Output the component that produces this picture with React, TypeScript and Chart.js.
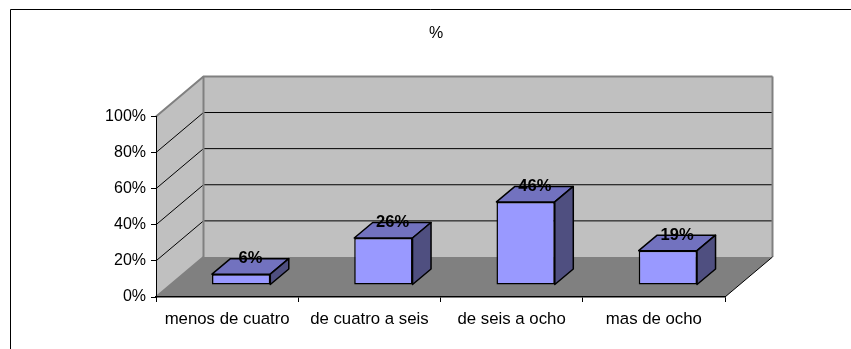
import React, { useEffect, useRef } from "react";
import { Chart, registerables } from "chart.js";

Chart.register(...registerables);

const categories = ["menos de cuatro", "de cuatro a seis", "de seis a ocho", "mas de ocho"];
const percentages = [6, 26, 46, 19];
const yTicks = [0, 20, 40, 60, 80, 100];
const chartTitle = "%";

const FONT = "'Liberation Sans', Arial, sans-serif";
const WALL_DX = 47.5;
const WALL_DY = -40;
const BAR_SHIFT_X = 14;
const BAR_SHIFT_Y = -12;
const BAR_DX = 18.5;
const BAR_DY = -15.5;

// Outer frame, side wall, back wall and floor of the pseudo-3D box.
const roomPlugin = {
  id: "room",
  afterLayout(chart: any) {
    // Tick labels are clipped to the scale box, so widen it to hold them.
    chart.scales.y.left = 20;
  },
  beforeDraw(chart: any) {
    const { ctx, chartArea: a, scales } = chart;
    const y = scales.y;
    ctx.save();
    ctx.fillStyle = "#ffffff";
    ctx.fillRect(0, 0, chart.width, chart.height);

    ctx.strokeStyle = "#000000";
    ctx.lineWidth = 1;
    ctx.beginPath();
    ctx.moveTo(10.5, chart.height);
    ctx.lineTo(10.5, 9.5);
    ctx.lineTo(chart.width, 9.5);
    ctx.stroke();

    const poly = (pts: number[][], fill: string) => {
      ctx.beginPath();
      pts.forEach(([px, py], i) => (i ? ctx.lineTo(px, py) : ctx.moveTo(px, py)));
      ctx.closePath();
      ctx.fillStyle = fill;
      ctx.fill();
    };
    const l = a.left, r = a.right, t = a.top, b = a.bottom;
    const bl = l + WALL_DX, br = r + WALL_DX, bt = t + WALL_DY, bb = b + WALL_DY;

    poly([[bl, bt], [br, bt], [br, bb], [bl, bb]], "#c0c0c0");
    poly([[l, t], [bl, bt], [bl, bb], [l, b]], "#c0c0c0");
    poly([[l, b], [bl, bb], [br, bb], [r, b]], "#808080");

    // Grid lines run along the side wall and across the back wall.
    yTicks.forEach((v) => {
      const py = y.getPixelForValue(v);
      const edge = v === 0 || v === 100;
      ctx.strokeStyle = edge ? "#808080" : "#000000";
      ctx.lineWidth = edge ? 2 : 1;
      ctx.beginPath();
      ctx.moveTo(l, py);
      ctx.lineTo(bl, py + WALL_DY);
      if (v !== 0) ctx.lineTo(br, py + WALL_DY);
      ctx.stroke();
    });

    ctx.strokeStyle = "#808080";
    ctx.lineWidth = 2;
    ctx.beginPath();
    ctx.moveTo(bl, bt);
    ctx.lineTo(bl, bb);
    ctx.moveTo(br, bt);
    ctx.lineTo(br, bb);
    ctx.stroke();

    ctx.strokeStyle = "#000000";
    ctx.lineWidth = 1;
    ctx.beginPath();
    ctx.moveTo(r, b);
    ctx.lineTo(br, bb);
    ctx.stroke();
    ctx.restore();
  },
};

// Extrudes each bar: the top and side faces go behind the library's front face.
const extrudePlugin = {
  id: "extrude",
  beforeDatasetDraw(chart: any, args: any) {
    const { ctx } = chart;
    ctx.save();
    ctx.translate(BAR_SHIFT_X, BAR_SHIFT_Y);
    ctx.strokeStyle = "#000000";
    ctx.lineWidth = 1.5;
    ctx.lineJoin = "round";
    args.meta.data.forEach((bar: any) => {
      const { x, y, base, width } = bar.getProps(["x", "y", "base", "width"]);
      const left = x - width / 2;
      const right = x + width / 2;
      ctx.fillStyle = "#7272bf";
      ctx.beginPath();
      ctx.moveTo(left, y);
      ctx.lineTo(left + BAR_DX, y + BAR_DY);
      ctx.lineTo(right + BAR_DX, y + BAR_DY);
      ctx.lineTo(right, y);
      ctx.closePath();
      ctx.fill();
      ctx.stroke();
      ctx.fillStyle = "#4f4f80";
      ctx.beginPath();
      ctx.moveTo(right, y);
      ctx.lineTo(right + BAR_DX, y + BAR_DY);
      ctx.lineTo(right + BAR_DX, base + BAR_DY);
      ctx.lineTo(right, base);
      ctx.closePath();
      ctx.fill();
      ctx.stroke();
    });
  },
  afterDatasetDraw(chart: any) {
    chart.ctx.restore();
  },
  afterDatasetsDraw(chart: any) {
    const { ctx } = chart;
    const meta = chart.getDatasetMeta(0);
    ctx.save();
    ctx.font = `bold 16.5px ${FONT}`;
    ctx.fillStyle = "#000000";
    ctx.textAlign = "center";
    ctx.textBaseline = "middle";
    meta.data.forEach((bar: any, i: number) => {
      const { x, y } = bar.getProps(["x", "y"]);
      const label = `${percentages[i]}%`;
      ctx.fillText(label, x + BAR_SHIFT_X + BAR_DX / 2, y + BAR_SHIFT_Y + BAR_DY / 2 - 7.5);
    });
    ctx.restore();
  },
};

export default function App() {
  const ref = useRef<HTMLCanvasElement>(null);

  useEffect(() => {
    if (!ref.current) return;
    const chart = new Chart(ref.current, {
      type: "bar",
      data: {
        labels: categories,
        datasets: [
          {
            data: percentages,
            backgroundColor: "#9999ff",
            borderColor: "#000000",
            borderWidth: 1.5,
            borderSkipped: false,
            barPercentage: 0.41,
            categoryPercentage: 1,
            clip: false,
          },
        ],
      },
      plugins: [roomPlugin, extrudePlugin],
      options: {
        responsive: false,
        animation: false,
        layout: { padding: { left: 147, right: 126, top: 0, bottom: 0 } },
        plugins: {
          legend: { display: false },
          tooltip: { enabled: false },
          title: {
            display: true,
            text: chartTitle,
            color: "#000000",
            font: { family: FONT, size: 16, weight: "normal", lineHeight: 1.2 },
            padding: { top: 24, bottom: 73.2 },
          },
        },
        scales: {
          x: {
            grid: { drawOnChartArea: false, tickLength: 5, tickColor: "#000000", tickWidth: 1 },
            border: { color: "#000000", width: 1.5 },
            ticks: {
              color: "#000000",
              font: { family: FONT, size: 16.8 },
              padding: 7,
              maxRotation: 0,
              autoSkip: false,
            },
            afterFit(scale: any) {
              scale.height = 52;
            },
          },
          y: {
            min: 0,
            max: 100,
            grid: { drawOnChartArea: false, tickLength: 5, tickColor: "#000000", tickWidth: 1 },
            border: { color: "#000000", width: 1 },
            ticks: {
              stepSize: 20,
              color: "#000000",
              font: { family: FONT, size: 16 },
              padding: 5,
              callback: (v: any) => `${v}%`,
            },
            afterFit(scale: any) {
              scale.width = 9;
            },
          },
        },
      },
    } as any);
    return () => chart.destroy();
  }, []);

  return (
    <div style={{ position: "absolute", left: 0, top: 0, width: 851, height: 349, background: "#fff" }}>
      <canvas ref={ref} width={851} height={349} style={{ display: "block" }} />
    </div>
  );
}
